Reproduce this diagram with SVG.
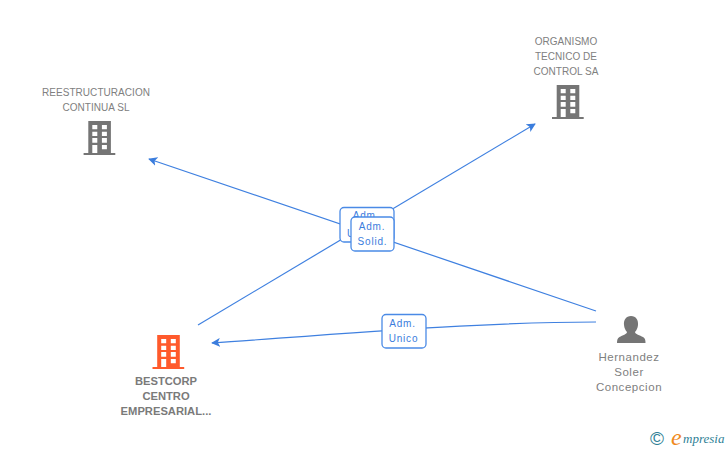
<svg xmlns="http://www.w3.org/2000/svg" width="728" height="450" viewBox="0 0 728 450">
<style>
text{font-family:"Liberation Sans",Arial,sans-serif}
.n{font-size:10px;fill:#808080;text-anchor:middle;letter-spacing:.05px}
.p{font-size:11.500px;letter-spacing:.55px}
.b{font-size:11.200px;font-weight:bold;letter-spacing:0;fill:#7a7a7a}
.l{font-size:10px;fill:#3b7ddd;text-anchor:middle;letter-spacing:.8px}
.c{fill:none;stroke:#3f80e0;stroke-width:1.2}
.box{fill:#fff;stroke:#4a8ae6;stroke-width:1.3}
</style>
<defs>
<marker id="a" viewBox="0 0 10 10" refX="9" refY="5" markerWidth="9" markerHeight="9" markerUnits="userSpaceOnUse" orient="auto"><path d="M0 0L10 5L0 10L2.500 5Z" fill="#3b7ddd"/></marker>
<symbol id="bld" overflow="visible">
<path d="M4.700 0H27.300V32H31.700V34H0V32H4.700Z M8.700 4V8.300H13.700V4Z M18.300 4V8.300H23.300V4Z M8.700 10.700V15H13.700V10.700Z M18.300 10.700V15H23.300V10.700Z M8.700 17V21.700H13.700V17Z M18.300 17V21.700H23.300V17Z M8.700 24V32H13.700V24Z M18.300 24V28.300H23.300V24Z" fill-rule="evenodd" fill="currentColor"/>
</symbol>
</defs>
<g id="connectors">
<path class="c" marker-end="url(#a)" d="M596 311L149 159"/>
<path class="c" marker-end="url(#a)" d="M198 325L535 124"/>
<path class="c" marker-end="url(#a)" d="M596 322C480 322 340 334 212 343"/>
</g>
<g id="label-1"><rect class="box" x="340" y="207.500" width="54" height="34.500" rx="4"/><text class="l" x="366" y="219">Adm.</text><text class="l" x="351" y="237">U</text></g>
<g id="label-2"><rect class="box" x="351" y="217" width="43" height="34" rx="4"/><text class="l" x="372" y="230">Adm.</text><text class="l" x="372.500" y="245">Solid.</text></g>
<g id="label-3"><rect class="box" x="382" y="314.500" width="44" height="33.500" rx="4"/><text class="l" x="402.500" y="327">Adm.</text><text class="l" x="403.500" y="342">Unico</text></g>
<g id="node-reestructuracion">
<text class="n" x="96" y="96">REESTRUCTURACION</text><text class="n" x="96" y="111">CONTINUA SL</text>
<use href="#bld" x="83.600" y="121" color="#757575"/></g>
<g id="node-organismo">
<text class="n" x="566" y="45">ORGANISMO</text><text class="n" x="566" y="60">TECNICO DE</text><text class="n" x="566" y="75">CONTROL SA</text>
<use href="#bld" x="552" y="85" color="#757575"/></g>
<g id="node-bestcorp">
<use href="#bld" x="152.500" y="335" color="#ff5a2c"/>
<text class="n b" x="166" y="385">BESTCORP</text><text class="n b" x="166" y="400">CENTRO</text><text class="n b" x="166" y="415">EMPRESARIAL...</text></g>
<g id="node-hernandez">
<path fill="#757575" d="M631 316C636 316 638.500 320 638 325C637.700 328 636.500 330.500 635 332C635 334 640 335.500 643 337C645 338 645.500 340 645.500 343H617C617 340 617.500 338 619.500 337C622.500 335.500 627 334 627 332C625.500 330.500 624.300 328 624 325C623.500 320 626 316 631 316Z"/>
<text class="n p" x="629" y="361">Hernandez</text><text class="n p" x="629" y="376">Soler</text><text class="n p" x="629" y="391">Concepcion</text></g>
<g id="logo">
<text x="650" y="445" font-size="19" fill="#2f7f96">©</text>
<text x="671" y="445" font-size="24" font-style="italic" fill="#f08a1d" style="font-family:'Liberation Serif',serif">e</text>
<text x="683" y="443" font-size="13" font-style="italic" fill="#2f7f96" style="font-family:'Liberation Serif',serif">mpresia</text></g>
</svg>
